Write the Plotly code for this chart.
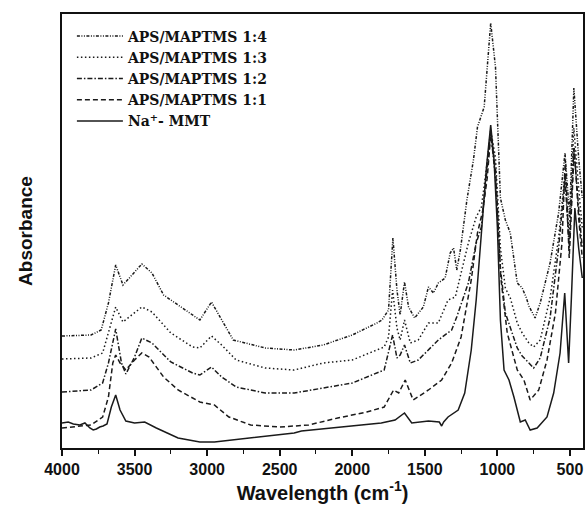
import plotly.graph_objects as go

# Wavenumber (cm^-1) and absorbance (arbitrary units)
wn_14 = [4000, 3800, 3730, 3680, 3630, 3580, 3530, 3450, 3380, 3300, 3200, 3050, 2970, 2900, 2820,
         2600, 2400, 2200, 2000, 1830, 1795, 1750, 1720, 1692, 1670, 1640, 1612, 1570, 1510, 1475,
         1440, 1407, 1360, 1325, 1302, 1280, 1255, 1210, 1165, 1137, 1091, 1046, 1013, 979, 945,
         911, 880, 863, 829, 800, 783, 740, 705, 637, 578, 534, 502, 473, 440, 415]
ab_14 = [112, 113, 118, 145, 183, 163, 171, 184, 175, 153, 143, 128, 146, 128, 108,
         100, 98, 103, 113, 125, 128, 138, 210, 158, 133, 166, 141, 130, 141, 161,
         155, 165, 170, 195, 200, 178, 198, 248, 288, 321, 341, 425, 381, 250, 228,
         215, 180, 165, 160, 150, 142, 130, 145, 185, 235, 295, 231, 360, 290, 250]

wn_13 = [4000, 3800, 3720, 3680, 3630, 3580, 3520, 3450, 3380, 3250, 3100, 3050, 2970, 2900, 2800,
         2600, 2400, 2200, 2000, 1780, 1750, 1722, 1692, 1670, 1640, 1600, 1545, 1475, 1407, 1340,
         1290, 1255, 1200, 1146, 1110, 1075, 1046, 1013, 979, 945, 911, 863, 829, 783, 750,
         705, 637, 578, 534, 505, 473, 440, 415]
ab_13 = [89, 90, 95, 115, 141, 126, 133, 141, 136, 115, 101, 100, 112, 103, 88,
         80, 78, 85, 88, 101, 111, 158, 120, 108, 128, 105, 108, 125, 125, 148,
         151, 171, 205, 231, 241, 280, 318, 290, 200, 160, 150, 125, 115, 105, 101,
         108, 150, 210, 275, 210, 320, 260, 220]

wn_12 = [4000, 3800, 3720, 3680, 3630, 3590, 3560, 3500, 3450, 3380, 3250, 3100, 3050, 2970, 2900,
         2800, 2600, 2400, 2200, 2000, 1780, 1750, 1722, 1692, 1670, 1640, 1600, 1545, 1475, 1407,
         1315, 1280, 1200, 1146, 1110, 1075, 1046, 1013, 979, 945, 911, 863, 829, 783, 750,
         705, 637, 578, 534, 505, 473, 440, 415]
ab_12 = [56, 58, 65, 85, 119, 85, 74, 91, 110, 105, 86, 75, 73, 81, 71,
         61, 55, 55, 60, 65, 78, 95, 113, 90, 93, 103, 85, 88, 98, 108,
         118, 131, 165, 205, 221, 270, 316, 270, 180, 135, 120, 100, 92, 85, 80,
         90, 130, 200, 270, 200, 300, 240, 200]

wn_11 = [4000, 3800, 3720, 3680, 3650, 3630, 3600, 3560, 3500, 3450, 3400, 3300, 3200, 3050, 2950,
         2850, 2700, 2500, 2300, 2100, 1900, 1780, 1715, 1680, 1635, 1580, 1475, 1384, 1315, 1250,
         1180, 1137, 1100, 1070, 1046, 1012, 977, 932, 863, 817, 774, 715, 658, 600, 555,
         532, 505, 470, 440, 415]
ab_11 = [20, 23, 31, 51, 85, 93, 85, 78, 88, 95, 91, 71, 58, 46, 43,
         31, 23, 21, 23, 30, 36, 41, 58, 55, 68, 48, 58, 68, 85, 111,
         168, 215, 238, 270, 313, 278, 171, 115, 78, 68, 48, 58, 88, 135, 205,
         288, 190, 300, 230, 190]

wn_mmt = [4000, 3957, 3922, 3877, 3842, 3808, 3785, 3763, 3740, 3717, 3690, 3660, 3630, 3600, 3560,
          3500, 3430, 3350, 3200, 3050, 2950, 2700, 2400, 2350, 2000, 1800, 1705, 1640, 1590, 1475,
          1400, 1384, 1370, 1340, 1270, 1225, 1180, 1146, 1110, 1075, 1046, 1023, 1000, 979, 954,
          920, 886, 842, 808, 774, 726, 658, 612, 568, 536, 509, 490, 466, 440, 415]
ab_mmt = [25, 26, 24, 23, 25, 20, 18, 19, 21, 22, 24, 41, 53, 38, 27,
          25, 26, 20, 10, 6, 6, 10, 15, 17, 22, 25, 28, 35, 25, 27,
          26, 22, 26, 31, 38, 55, 98, 148, 215, 281, 323, 288, 221, 128, 78,
          68, 51, 26, 28, 18, 20, 31, 55, 95, 155, 85, 150, 240, 200, 170]

names = ["APS/MAPTMS 1:4", "APS/MAPTMS 1:3", "APS/MAPTMS 1:2", "APS/MAPTMS 1:1", "Na<sup>+</sup>- MMT"]
x_ticks = [4000, 3500, 3000, 2500, 2000, 1500, 1000, 500]

series = [(wn_14, ab_14, "3px,1.5px,1px,1.5px,1px,1.5px"),
          (wn_13, ab_13, "1.5px,2.5px"),
          (wn_12, ab_12, "5px,2px,1.5px,2px"),
          (wn_11, ab_11, "5px,3px"),
          (wn_mmt, ab_mmt, "solid")]

fig = go.Figure()
for (wn, ab, dash), name in zip(series, names):
    fig.add_trace(go.Scatter(x=wn, y=ab, mode="lines", name=name,
                             line=dict(color="#1a1a1a", width=1.5, dash=dash)))

fig.update_layout(
    width=588, height=506,
    margin=dict(l=62, r=3, t=14, b=58),
    paper_bgcolor="white", plot_bgcolor="white",
    showlegend=True,
    legend=dict(x=0.019, y=0.985, xanchor="left", yanchor="top",
                font=dict(family="DejaVu Serif", size=14, color="#111", weight="bold"),
                bgcolor="rgba(0,0,0,0)", tracegroupgap=0, itemwidth=46),
    xaxis=dict(range=[4000, 410], tickvals=x_ticks, ticks="outside", ticklen=6, tickwidth=1.5,
               tickcolor="#111",
               minor=dict(dtick=250, ticks="outside", ticklen=4, tickwidth=1.2, tickcolor="#111"),
               showgrid=False, zeroline=False, showline=True, linecolor="#111", linewidth=2,
               mirror=True,
               tickfont=dict(family="Liberation Sans", size=16, color="#111", weight="bold"),
               title=dict(text="Wavelength (cm<sup>-1</sup>)", standoff=6,
                          font=dict(family="Liberation Sans", size=20, color="#111", weight="bold"))),
    yaxis=dict(range=[0, 434], showticklabels=False, ticks="", showgrid=False, zeroline=False,
               showline=True, linecolor="#111", linewidth=2, mirror=True,
               title=dict(text="Absorbance", standoff=22,
                          font=dict(family="Liberation Sans", size=19, color="#111", weight="bold"))),
)

fig.write_html("out.html")
